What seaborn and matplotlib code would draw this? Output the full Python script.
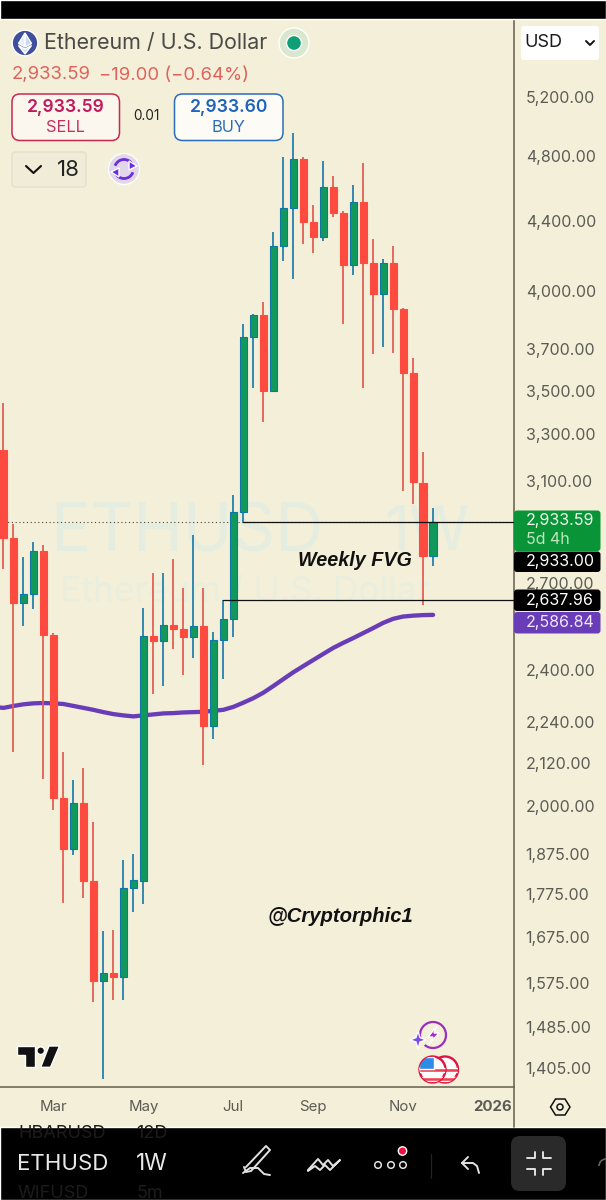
import numpy as np
import pandas as pd
import matplotlib
matplotlib.use("Agg")
import matplotlib.pyplot as plt
import seaborn as sns
from matplotlib.patches import Arc, Circle, FancyBboxPatch, Polygon, Rectangle

# Weekly ETHUSD candles, first visible week is index 0
opens = [3230, 2869, 2628, 2661, 2819, 2517, 2021, 1887, 2007, 1807, 1579, 1596, 1588, 1790, 1807,
         2514, 2497, 2552, 2538, 2511, 2548, 2227, 2501, 2572, 2971, 3762, 3875, 3498, 4253, 4476,
         4782, 4392, 4304, 4605, 4446, 4145, 4512, 4156, 3986, 4156, 3906, 3584, 3090, 2800]
closes = [2869, 2628, 2661, 2819, 2517, 2021, 1887, 2007, 1807, 1579, 1596, 1588, 1790, 1810, 2514,
          2497, 2552, 2538, 2511, 2548, 2227, 2501, 2572, 2971, 3762, 3875, 3498, 4253, 4476, 4782,
          4392, 4304, 4605, 4446, 4145, 4512, 4156, 3986, 4156, 3906, 3584, 3094, 2800, 2933.59]
highs = [3442, 2924, 2797, 2854, 2842, 2524, 2150, 2071, 2104, 1957, 1689, 1692, 1859, 1874, 2611,
         2737, 2737, 2789, 2682, 2881, 2682, 2528, 2639, 3040, 3828, 3880, 3943, 4334, 4794, 4952,
         4794, 4494, 4769, 4673, 4458, 4617, 4756, 4293, 4179, 4253, 3912, 3657, 3222, 2987]
lows = [2752, 2150, 2548, 2607, 2073, 1989, 1754, 1872, 1766, 1535, 1384, 1539, 1539, 1733, 1752,
        2325, 2350, 2470, 2385, 2441, 2113, 2188, 2373, 2511, 2932, 3512, 3355, 3493, 4167, 4068,
        4264, 4213, 4281, 4422, 3828, 4090, 3512, 3677, 3711, 3681, 3057, 3004, 2621, 2763]
# purple moving average, one value per week, starting one week left of the screen
ma_values = [2285, 2282, 2288, 2293, 2296, 2297, 2296, 2294, 2288, 2282, 2276, 2269, 2263, 2259, 2256,
             2259, 2262, 2265, 2266, 2268, 2269, 2270, 2273, 2276, 2285, 2298, 2312, 2329, 2350, 2372,
             2394, 2414, 2434, 2454, 2474, 2491, 2507, 2524, 2541, 2559, 2573, 2581, 2584, 2586, 2586.84]

price_ticks = [5200, 4800, 4400, 4000, 3700, 3500, 3300, 3100, 2700, 2400, 2240, 2120, 2000, 1875,
               1775, 1675, 1575, 1485, 1405]
month_weeks = [5, 14, 23, 31, 40, 49]
month_labels = ["Mar", "May", "Jul", "Sep", "Nov", "2026"]
last_price = 2933.59
fvg_top = 2933.59
fvg_bottom = 2637.96

BG = "#F4EFD9"
RED = "#FF4B3F"
RED_WICK = "#E25A50"
GREEN = "#11985B"
BLUE_EDGE = "#0E77A6"
PURPLE = "#6A3DB8"
GREY = "#5C5C55"
AXIS = "#6E6A55"
FONT = "Inter"

sns.set_theme(style="white")
plt.rcParams["font.family"] = [FONT, "DejaVu Sans"]

weeks = np.arange(len(opens))
candles = pd.DataFrame({"week": weeks, "open": opens, "close": closes, "high": highs, "low": lows})
candles["side"] = np.where(candles["close"] >= candles["open"], "up", "down")
wicks = candles.melt(id_vars=["week", "side"], value_vars=["low", "high"], value_name="price")
ma = pd.DataFrame({"week": np.arange(-1, len(opens)), "price": ma_values})

fig = plt.figure(figsize=(6.06, 12), dpi=100, facecolor=BG)
rect = [0, (1200 - 1087) / 1200, 514 / 606, (1087 - 19) / 1200]

# watermark sits under the candles
back = fig.add_axes([0, 0, 1, 1], zorder=0)
back.set_xlim(0, 606)
back.set_ylim(1200, 0)
back.axis("off")
back.text(50, 534, "ETHUSD", fontsize=48, color="#E4EDE0", va="center", ha="left")
back.text(384, 534, "1W", fontsize=44, color="#E4EDE0", va="center", ha="left")
back.text(60, 593, "Ethereum / U.S. Dollar", fontsize=25.5, color="#EAEEDD", va="center", ha="left")

ax = fig.add_axes(rect, zorder=1)
ax.patch.set_alpha(0)
ax.set_yscale("log")

sns.lineplot(data=ma, x="week", y="price", color=PURPLE, linewidth=3.1, ax=ax, zorder=1.5,
             solid_capstyle="round")

sns.lineplot(data=wicks, x="week", y="price", hue="side", units="week", estimator=None,
             palette={"up": "#1C7BAA", "down": RED_WICK}, linewidth=1.25, legend=False,
             solid_capstyle="butt", ax=ax, zorder=2)

for side, fill in [("up", GREEN), ("down", RED)]:
    part = candles[candles["side"] == side]
    lo = part[["open", "close"]].min(axis=1)
    hi = part[["open", "close"]].max(axis=1)
    ax.bar(part["week"], hi - lo, bottom=lo, width=0.72, color=fill,
           edgecolor=BLUE_EDGE if side == "up" else RED, linewidth=0.8, zorder=3)

ax.axhline(last_price, color="#45453F", linewidth=0.8, linestyle=(0, (1, 2.4)), zorder=1)
ax.plot([24, 51.1], [fvg_top, fvg_top], color="#111111", linewidth=0.9, zorder=4)
ax.plot([22, 51.1], [fvg_bottom, fvg_bottom], color="#111111", linewidth=0.9, zorder=4)

ax.set_xlim(-0.35, 51.1)
ax.set_ylim(1369, 5775)
ax.set_xlabel("")
ax.set_ylabel("")
ax.yaxis.tick_right()
ax.set_yticks(price_ticks)
ax.set_yticklabels([f"{p:,.2f}" for p in price_ticks])
ax.minorticks_off()
ax.set_xticks(month_weeks)
ax.set_xticklabels(month_labels)
ax.tick_params(axis="y", length=0, pad=8.4, labelsize=11.5, labelcolor=GREY)
ax.tick_params(axis="x", length=0, pad=9.5, labelsize=10.8, labelcolor=GREY)
ax.get_xticklabels()[-1].set_fontweight("bold")
for name, spine in ax.spines.items():
    spine.set_visible(name in ("right", "bottom"))
    spine.set_color(AXIS)
    spine.set_linewidth(1.2)
ax.grid(False)

# everything else is app chrome, drawn in screen pixels
ui = fig.add_axes([0, 0, 1, 1], zorder=2)
ui.set_xlim(0, 606)
ui.set_ylim(1200, 0)
ui.axis("off")


def box(x0, y0, x1, y1, fill, edge="none", lw=0.0, r=3):
    ui.add_patch(FancyBboxPatch((x0 + r, y0 + r), x1 - x0 - 2 * r, y1 - y0 - 2 * r,
                                boxstyle=f"round,pad={r},rounding_size={r}",
                                facecolor=fill, edgecolor=edge, linewidth=lw))


def label(x, y, s, size, color, ha="left", **kw):
    ui.text(x, y, s, fontsize=size, color=color, ha=ha, va="center", **kw)


def stroke(xs, ys, color, lw=1.4):
    ui.plot(xs, ys, color=color, linewidth=lw, solid_capstyle="round", solid_joinstyle="round")


ui.add_patch(Rectangle((0, 0), 606, 18.5, facecolor="black"))
ui.add_patch(Rectangle((0, 1127), 606, 73, facecolor="black"))
ui.plot([514, 514], [1087, 1127], color=AXIS, linewidth=1.2)

# header
ui.add_patch(Circle((25, 43), 12.8, facecolor="#3F4F9C"))
ui.add_patch(Polygon([(25, 33), (31.5, 43.5), (25, 47)], facecolor="#C5D8F5"))
ui.add_patch(Polygon([(25, 33), (18.5, 43.5), (25, 47)], facecolor="#E6EFFC"))
ui.add_patch(Polygon([(18.5, 45.5), (25, 49), (31.5, 45.5), (25, 54)], facecolor="#D6E4F8"))
label(44, 43, "Ethereum / U.S. Dollar", 15.45, "#4A4A48")
ui.add_patch(Circle((294, 43), 15, facecolor="#D9E7CF"))
ui.add_patch(Circle((294, 43), 7.5, facecolor="#0E9F77"))
label(12, 75, "2,933.59", 13.3, "#E0625C")
label(99, 75, "\u221219.00 (\u22120.64%)", 13.3, "#E0625C")

box(12, 94, 119.5, 140.5, "#FBF7EE", "#C8294F", 1.1, r=8)
label(66, 107, "2,933.59", 12.6, "#C2185B", ha="center", fontweight="semibold")
label(65, 127.5, "SELL", 11.8, "#C2305F", ha="center")
label(146.5, 116.5, "0.01", 9.8, "#222222", ha="center")
box(174.5, 94, 283, 140.5, "#FDFBF5", "#2A6DB8", 1.1, r=8)
label(229, 107, "2,933.60", 12.6, "#1E62BE", ha="center", fontweight="semibold")
label(228, 127.5, "BUY", 11.8, "#2A6DB8", ha="center")

box(12, 152, 86, 187, "#F1ECD7", "#E3DFCC", 0.9, r=3)
stroke([26, 33.5, 41], [166, 173, 166], "#111111", 1.5)
label(68, 169.5, "18", 16, "#222222", ha="center")
ui.add_patch(Circle((124, 169), 15.5, facecolor="#E2D6EA"))
ui.add_patch(Arc((124, 169), 19, 19, theta1=200, theta2=340, color="#6A2DE0", linewidth=2))
ui.add_patch(Arc((124, 169), 19, 19, theta1=20, theta2=160, color="#6A2DE0", linewidth=2))
ui.add_patch(Polygon([(129, 161), (137, 166), (129, 170)], facecolor="#6A2DE0"))
ui.add_patch(Polygon([(119, 177), (111, 172), (119, 168)], facecolor="#6A2DE0"))

# currency selector
box(521, 26, 599, 60, "#FFFFFF", r=3)
label(524.5, 42.5, "USD", 13, "#1A1A1A")
stroke([586, 590, 594], [41, 45, 41], "#111111", 1.4)

# price badges
box(514, 510.5, 600.5, 551, "#0A9438", r=3)
label(526, 521, "2,933.59", 11.5, "#F2F7EC")
label(526, 539, "5d 4h", 11.5, "#BFE5BE")
box(514, 551.5, 600.5, 572, "#000000", r=3)
label(526, 561.5, "2,933.00", 11.5, "#FFFFFF")
box(514, 589.5, 600.5, 611, "#000000", r=3)
label(526, 600, "2,637.96", 11.5, "#FFFFFF")
box(514, 612, 600.5, 633.5, PURPLE, r=3)
label(526, 622.5, "2,586.84", 11.5, "#EFE6FA")

# annotations
hand = dict(family="Liberation Sans", fontweight="bold", fontstyle="italic")
label(298, 560, "Weekly FVG", 14.2, "#111111", **hand)
label(268, 916, "@Cryptorphic1", 14.6, "#111111", **hand)

# TradingView mark
tv = "#111111"
ui.add_patch(Polygon([(16.7, 1046), (35, 1046), (35, 1067.3), (25, 1067.3), (25, 1055), (16.7, 1055)], facecolor=tv))
ui.add_patch(Circle((40.7, 1050.7), 3.8, facecolor=tv))
ui.add_patch(Polygon([(49, 1046), (59.5, 1046), (50.5, 1067.3), (40.7, 1067.3)], facecolor=tv))

# event icons
ui.add_patch(Arc((433, 1035), 26, 26, theta1=-200, theta2=130, color="#9A2FB8", linewidth=1.6))
ui.add_patch(Polygon([(437, 1026), (428, 1037), (433, 1037), (429, 1044), (439, 1033), (434, 1033)], facecolor="#A52CC8"))
ui.add_patch(Polygon([(418, 1031), (420, 1037.5), (426, 1040), (420, 1042), (418, 1049), (416, 1042), (410, 1040), (416, 1037.5)],
                     facecolor="#7B4DE8"))
for cx, z in [(445, 6), (432.5, 7)]:
    disc = Circle((cx, 1069.5), 13, facecolor="#FBFBFB", edgecolor="#E0123F", linewidth=1.7, zorder=z)
    ui.add_patch(disc)
    for sy in (1068, 1077):
        s = Rectangle((cx - 14, sy), 28, 4, facecolor="#EE4250", zorder=z)
        ui.add_patch(s)
        s.set_clip_path(disc)
    if cx < 440:
        can = Rectangle((cx - 14, 1057), 15, 12, facecolor="#2E8BE8", zorder=z)
        ui.add_patch(can)
        can.set_clip_path(disc)

# settings hexagon under the scale
ui.add_patch(Polygon([(550.5, 1107), (555.5, 1099), (565, 1099), (570, 1107), (565, 1115), (555.5, 1115)],
                     facecolor="none", edgecolor="#111111", linewidth=1.1))
ui.add_patch(Circle((560, 1107), 3, facecolor="none", edgecolor="#111111", linewidth=1.1))

# bottom toolbar
label(18, 1134, "HBARUSD", 13, "#1C1C1C")
label(136, 1134, "12D", 13, "#1C1C1C")
label(18, 1193, "WIFUSD", 13, "#1C1C1C")
label(137, 1193, "5m", 13, "#1C1C1C")
label(17, 1164.5, "ETHUSD", 16, "#E8E8E8")
label(136, 1164.5, "1W", 16.5, "#E8E8E8")
white = "#E2E2E2"
stroke([246, 266, 270, 251, 246, 244], [1167, 1146, 1150, 1171, 1172, 1167], white)
stroke([243, 250, 258, 264, 270], [1173, 1168, 1168, 1174, 1175], white)
stroke([308, 318, 323, 328, 333, 340, 330, 325, 320, 315, 308], [1170, 1159, 1165, 1160, 1166, 1160, 1170, 1165, 1170, 1166, 1171], white)
for cx in (378, 391, 403):
    ui.add_patch(Circle((cx, 1165), 3.3, facecolor="none", edgecolor=white, linewidth=1.1))
ui.add_patch(Circle((402.5, 1151), 4.2, facecolor="#F0103F"))
ui.plot([431, 431], [1154, 1178], color="#222222", linewidth=0.9)
stroke([462, 468], [1163, 1157], white)
stroke([462, 468], [1163, 1169], white)
stroke([462, 473, 477, 479], [1163, 1163, 1166, 1173], white)
box(511, 1136, 566, 1191, "#2A2A2A", r=9)
stroke([526.5, 534.5, 534.5], [1158, 1158, 1152], white)
stroke([550.5, 542.5, 542.5], [1158, 1158, 1152], white)
stroke([526.5, 534.5, 534.5], [1169, 1169, 1175], white)
stroke([550.5, 542.5, 542.5], [1169, 1169, 1175], white)
ui.add_patch(Arc((606, 1166), 14, 14, theta1=180, theta2=270, color="#666666", linewidth=1.2))

fig.savefig("out.png", dpi=100, facecolor=BG)
